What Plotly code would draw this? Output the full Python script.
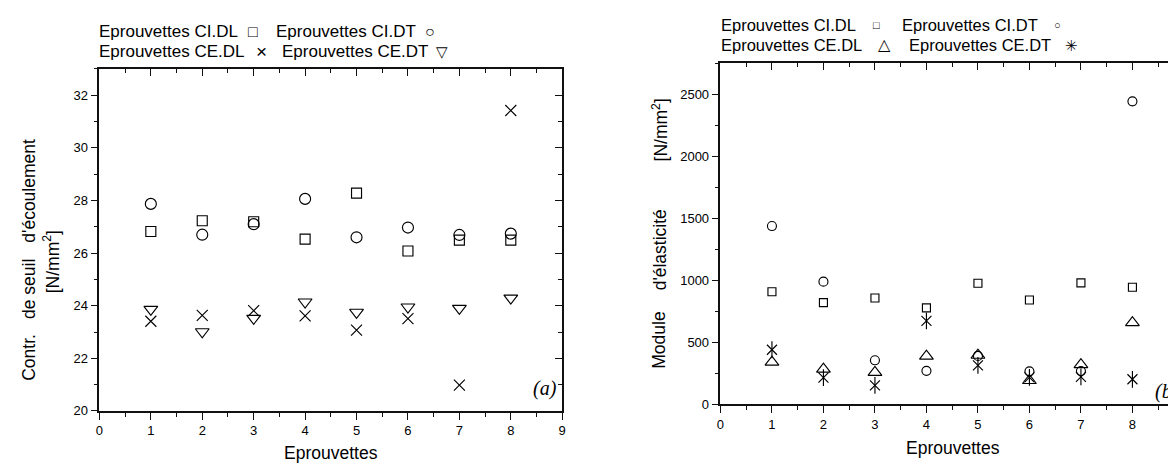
import plotly.graph_objects as go

# ---------------- data ----------------
specimens = [1, 2, 3, 4, 5, 6, 7, 8]

# panel (a) : Contr. de seuil d'écoulement [N/mm2]
seuil_ci_dl = [26.82, 27.23, 27.19, 26.53, 28.28, 26.08, 26.49, 26.49]
seuil_ci_dt = [27.87, 26.70, 27.10, 28.06, 26.60, 26.97, 26.69, 26.74]
seuil_ce_dl = [23.41, 23.63, 23.81, 23.61, 23.07, 23.51, 20.98, 31.42]
seuil_ce_dt = [23.86, 23.01, 23.52, 24.14, 23.75, 23.95, 23.90, 24.29]

# panel (b) : Module d'élasticité [N/mm2]
module_ci_dl = [907, 820, 857, 777, 976, 841, 979, 944]
module_ci_dt = [1437, 989, 355, 270, 390, 266, 268, 2442]
module_ce_dl = [340, 284, 258, 388, 396, 192, 320, 658]
module_ce_dt = [440, 216, 153, 673, 314, 218, 222, 202]

x_ticks = [0, 1, 2, 3, 4, 5, 6, 7, 8, 9]

W, H = 1176, 464
FONT = "Liberation Sans, Arial, sans-serif"
SERIF = "Liberation Serif, Times New Roman, serif"

fig = go.Figure()


def add(xa, ya, yvals, symbol, size, name):
    fig.add_trace(go.Scatter(
        x=specimens, y=yvals, mode="markers", xaxis=xa, yaxis=ya, name=name,
        showlegend=False, hoverinfo="skip",
        marker=dict(symbol=symbol, size=size, color="black",
                    line=dict(width=1.15, color="black"))))


# panel (a)
add("x", "y", seuil_ci_dl, "square-open", 10, "Eprouvettes CI.DL")
add("x", "y", seuil_ci_dt, "circle-open", 11, "Eprouvettes CI.DT")
add("x", "y", seuil_ce_dl, "x-thin-open", 11, "Eprouvettes CE.DL")
add("x", "y", seuil_ce_dt, "triangle-down-open", 12, "Eprouvettes CE.DT")

# panel (b)
add("x2", "y2", module_ci_dl, "square-open", 8, "Eprouvettes CI.DL")
add("x2", "y2", module_ci_dt, "circle-open", 9, "Eprouvettes CI.DT")
add("x2", "y2", module_ce_dl, "triangle-up-open", 12, "Eprouvettes CE.DL")
add("x2", "y2", module_ce_dt, "x-thin-open", 10, "Eprouvettes CE.DT")
add("x2", "y2", module_ce_dt, "line-ns-open", 12, "Eprouvettes CE.DT")

# empty traces so the mirrored (inside-tick) axes get drawn
for xa, ya in [("x3", "y"), ("x", "y3"), ("x4", "y2"), ("x2", "y4")]:
    fig.add_trace(go.Scatter(x=[None], y=[None], xaxis=xa, yaxis=ya,
                             mode="markers", showlegend=False, hoverinfo="skip"))

# geometry (pixels)
a_left, a_right, a_top, a_bottom = 88, 554, 62, 410
b_left, b_top, b_bottom = 713.3, 55.7, 403.3
b_xmax = (W - b_left) / 51.85

base_axis = dict(showgrid=False, zeroline=False, showline=True, linecolor="#111",
                 linewidth=1.5, ticks="outside", ticklen=7, tickwidth=1.3,
                 tickcolor="#111", tickfont=dict(family=FONT, size=13, color="black"))
mirror_axis = dict(showgrid=False, zeroline=False, showline=False, ticks="inside",
                   ticklen=7, tickwidth=1.3, tickcolor="#111", showticklabels=False)
minor_out = dict(ticks="outside", ticklen=4, tickcolor="#111", tickwidth=1.2)
minor_in = dict(ticks="inside", ticklen=4, tickcolor="#111", tickwidth=1.2)

fig.update_layout(
    width=W, height=H, margin=dict(l=0, r=0, t=0, b=0),
    paper_bgcolor="white", plot_bgcolor="white", showlegend=False,
    xaxis=dict(base_axis, domain=[a_left / W, a_right / W], range=[0, 9], anchor="y",
               tickmode="array", tickvals=x_ticks, mirror=True,
               minor=dict(minor_out, dtick=0.5, tick0=0)),
    yaxis=dict(base_axis, domain=[1 - a_bottom / H, 1 - a_top / H], range=[20, 33], anchor="x",
               dtick=2, tick0=20, mirror=True,
               minor=dict(minor_out, dtick=1, tick0=20)),
    xaxis3=dict(mirror_axis, overlaying="x", side="top", anchor="y", range=[0, 9],
                dtick=1, tick0=0, minor=dict(minor_in, dtick=0.5, tick0=0)),
    yaxis3=dict(mirror_axis, overlaying="y", side="right", anchor="x", range=[20, 33],
                dtick=2, tick0=20, minor=dict(minor_in, dtick=1, tick0=20)),
    xaxis2=dict(base_axis, domain=[b_left / W, 1.0], range=[0, b_xmax], anchor="y2",
                tickmode="array", tickvals=x_ticks, mirror=True,
                minor=dict(minor_out, dtick=0.5, tick0=0)),
    yaxis2=dict(base_axis, domain=[1 - b_bottom / H, 1 - b_top / H], range=[0, 2753], anchor="x2",
                dtick=500, tick0=0, mirror=False,
                minor=dict(minor_out, dtick=250, tick0=0)),
    xaxis4=dict(mirror_axis, overlaying="x2", side="top", anchor="y2", range=[0, b_xmax],
                dtick=1, tick0=0, minor=dict(minor_in, dtick=0.5, tick0=0)),
    yaxis4=dict(mirror_axis, overlaying="y2", side="right", anchor="x2", range=[0, 2753],
                dtick=500, tick0=0, minor=dict(minor_in, dtick=250, tick0=0)),
)

annotations = []


def ann(text, px, py, size=17, xanchor="left", yanchor="middle", angle=0, family=FONT):
    annotations.append(dict(text=text, x=px / W, y=1 - py / H, xref="paper", yref="paper",
                            xanchor=xanchor, yanchor=yanchor, showarrow=False, textangle=angle,
                            borderpad=0,
                            font=dict(family=family, size=size, color="black")))


# legend (a)
ann("Eprouvettes CI.DL", 87, 24)
ann("□", 243, 24, size=16, xanchor="center")
ann("Eprouvettes CI.DT", 265, 24)
ann("○", 421, 24, size=16, xanchor="center")
ann("Eprouvettes CE.DL", 87, 44)
ann("×", 251, 44, size=19, xanchor="center")
ann("Eprouvettes CE.DT", 271, 44)
ann("▽", 433, 44, size=15, xanchor="center")

# legend (b)
ann("Eprouvettes CI.DL", 713, 17, size=16.5)
ann("□", 870, 17, size=11, xanchor="center")
ann("Eprouvettes CI.DT", 895, 17, size=16.5)
ann("○", 1053, 17, size=11, xanchor="center")
ann("Eprouvettes CE.DL", 713, 38, size=16.5)
ann("△", 878, 37, size=16, xanchor="center")
ann("Eprouvettes CE.DT", 902, 38, size=16.5)
ann("✳", 1067, 38, size=15, xanchor="center")

# axis titles
ann("Eprouvettes", 321, 453, size=17.5, xanchor="center")
ann("Eprouvettes", 947, 448, size=17.5, xanchor="center")
# left y title, first line split in word groups
ann("Contr.", 17, 355, size=17.5, xanchor="center", angle=-90)
ann("de seuil", 17, 286, size=17.5, xanchor="center", angle=-90)
ann("d'écoulement", 17, 186, size=17.5, xanchor="center", angle=-90)
ann("[N/mm<sup>2</sup>]", 39, 258, size=17.5, xanchor="center", angle=-90)
# right y title
ann("Module", 652, 338, size=17.5, xanchor="center", angle=-90)
ann("d'élasticité", 652, 246, size=17.5, xanchor="center", angle=-90)
ann("[N/mm<sup>2</sup>]", 652, 124, size=17.5, xanchor="center", angle=-90)

# panel labels
ann("<i>(a)</i>", 537, 387, size=20, xanchor="center", family=SERIF)
ann("<i>(b)</i>", 1176, 390, size=20, xanchor="right", family=SERIF)

fig.update_layout(annotations=annotations)

fig.write_html("out.html")
